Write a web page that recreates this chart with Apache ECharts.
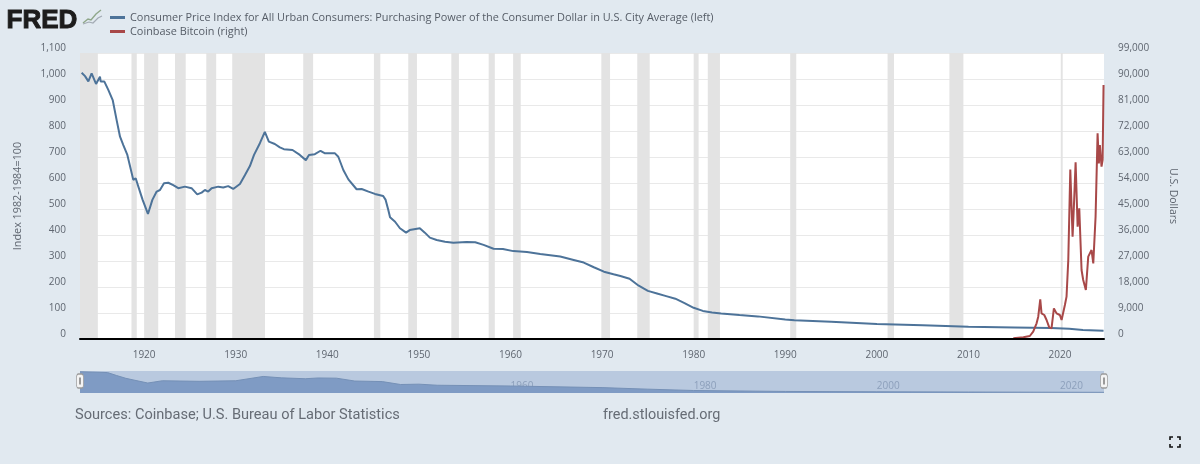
<!DOCTYPE html>
<html>
<head>
<meta charset="utf-8">
<style>html,body{margin:0;padding:0;background:#e1e9f0;}#c{width:1200px;height:464px;}</style>
<script src="https://cdn.jsdelivr.net/npm/echarts@6/dist/echarts.min.js"></script>
</head>
<body>
<div id="c"></div>
<script>
const cpiName = 'Consumer Price Index for All Urban Consumers: Purchasing Power of the Consumer Dollar in U.S. City Average (left)';
const btcName = 'Coinbase Bitcoin (right)';
const cpiYears = [1913.18,1913.55,1913.91,1914.27,1914.75,1915.18,1915.26,1915.66,1916.09,1916.57,1917,1917.37,1917.73,1918.17,1918.82,1919.08,1919.37,1919.84,1920.42,1920.9,1921.37,1921.73,1922.17,1922.64,1923.18,1923.73,1924.45,1925.18,1925.8,1926.28,1926.64,1927,1927.37,1928.1,1928.64,1929.18,1929.73,1930.46,1931,1931.55,1932,1932.64,1933.18,1933.62,1934.27,1934.82,1935.26,1936.2,1937,1937.66,1938,1938.64,1939.26,1939.75,1940.84,1941.2,1941.75,1942.3,1943.2,1943.75,1944.5,1945.2,1946.1,1946.37,1946.66,1946.85,1947.4,1947.93,1948.6,1949,1950.1,1950.65,1951.2,1951.94,1952.85,1953.76,1955.2,1956.15,1957.06,1958.15,1959.17,1960.3,1961.8,1963.25,1965.43,1966.9,1968,1969.1,1970.2,1971.25,1972,1973,1974,1975,1976,1977,1978,1979,1980,1981,1982,1983,1985,1987,1990,1991,1995,2000,2005,2010,2015,2019,2021,2022.5,2024.75];
const cpiValues = [1024,1011,991,1022,981,1009,990,990,958,919,842,778,746,708,612,618,586,535,481,535,567,573,599,601,592,580,586,580,556,563,573,567,580,586,583,588,577,596,630,665,708,753,797,759,750,737,730,727,708,688,708,711,724,714,714,701,650,614,576,577,567,558,550,535,496,468,451,426,409,419,426,409,390,381,374,370,373,372,362,347,346,338,335,327,317,304,294,276,259,249,242,232,205,185,175,165,155,138,120,108,102,98,92,87,75,72,66,58,53,47,44,42,39,35,32];
const btcYears = [2014.9,2016,2016.7,2017.07,2017.44,2017.62,2017.84,2017.98,2018.28,2018.53,2018.82,2019.07,2019.33,2019.62,2019.98,2020.17,2020.53,2020.71,2020.9,2021.12,2021.37,2021.52,2021.7,2021.92,2022.1,2022.35,2022.53,2022.82,2023.08,2023.44,2023.63,2023.88,2024.1,2024.24,2024.35,2024.53,2024.65,2024.75];
const btcValues = [240,580,1040,2540,5430,7730,13730,8880,8310,6580,4040,3690,10600,8880,8310,6580,11770,14650,27350,58700,35400,46400,61150,38900,45230,23880,20420,16960,28500,30800,26190,42340,71200,60800,67150,59650,62000,87900];
const navigatorYears = [1913,1916,1917,1918,1919,1920.4,1922,1926,1930,1933,1935,1937.6,1939,1941,1943,1946,1948,1950,1952,1960,1970,1975,1980,1990,2000,2010,2024.8];
const navigatorValues = [1024,985,842,708,612,481,590,563,590,797,730,688,724,714,576,550,409,426,374,338,259,185,120,75,58,47,32];
const recessionStarts = [1913,1918.62,1920,1923.37,1926.79,1929.62,1937.37,1945.09,1948.84,1953.54,1957.62,1960.29,1969.92,1973.84,1980,1981.54,1990.54,2001.17,2007.92,2020.08];
const recessionEnds = [1914.95,1919.2,1921.54,1924.54,1927.87,1933.2,1938.45,1945.79,1949.79,1954.37,1958.29,1961.12,1970.87,1975.2,1980.54,1982.87,1991.2,2001.87,2009.45,2020.29];
const xTicks = [1920,1930,1940,1950,1960,1970,1980,1990,2000,2010,2020];
const navigatorTicks = [1960,1980,2000,2020];
const xRange = [1913,2024.8];
const navigatorHandles = [[1913,578],[2024.8,578]];

const pairs = (xs, ys) => xs.map((x, i) => [x, ys[i]]);
const gray = '#5f6670';
const font = '"Open Sans"';
const chart = echarts.init(document.getElementById('c'));
chart.setOption({
  animation: false,
  backgroundColor: '#e1e9f0',
  legend: {
    orient: 'vertical', left: 110, top: 11, padding: 0, itemGap: 1, itemWidth: 15, itemHeight: 3, icon: 'rect',
    data: [cpiName, btcName],
    textStyle: { fontFamily: font, fontSize: 10.9, color: '#555c66', lineHeight: 13 },
    selectedMode: false
  },
  grid: [
    { left: 80, top: 53, width: 1024, height: 286, show: true, backgroundColor: '#ffffff', borderWidth: 0 },
    { left: 80, top: 371, width: 1024, height: 22, show: true, backgroundColor: '#b9c9df', borderWidth: 0 }
  ],
  xAxis: [
    { type: 'value', gridIndex: 0, min: xRange[0], max: xRange[1], z: 10, splitLine: { show: false }, axisTick: { show: false },
      axisLine: { show: true, onZero: false, lineStyle: { color: '#000', width: 2 } },
      axisLabel: { customValues: xTicks, margin: 11, fontFamily: font, fontSize: 10, color: gray, formatter: v => String(v) } },
    { type: 'value', gridIndex: 1, min: xRange[0], max: xRange[1], splitLine: { show: false }, axisTick: { show: false }, axisLine: { show: false },
      axisLabel: { inside: true, customValues: navigatorTicks, margin: 2, align: 'left', fontFamily: font, fontSize: 10, color: 'rgba(125,145,175,0.75)', formatter: v => String(v) } }
  ],
  yAxis: [
    { type: 'value', gridIndex: 0, min: 0, max: 1100, interval: 100, position: 'left',
      name: 'Index 1982-1984=100', nameLocation: 'middle', nameGap: 57, nameRotate: 90,
      nameTextStyle: { fontFamily: font, fontSize: 10.8, color: gray },
      axisLine: { show: false }, axisTick: { show: false }, splitLine: { show: true, lineStyle: { color: '#e9e9e9', width: 1 } },
      axisLabel: { margin: 14, verticalAlign: 'bottom', fontFamily: font, fontSize: 10, color: gray, formatter: v => v.toLocaleString('en-US') } },
    { type: 'value', gridIndex: 0, min: 0, max: 99000, interval: 9000, position: 'right',
      name: 'U.S. Dollars', nameLocation: 'middle', nameGap: 63, nameRotate: -90,
      nameTextStyle: { fontFamily: font, fontSize: 10.5, color: gray },
      axisLine: { show: false }, axisTick: { show: false }, splitLine: { show: false },
      axisLabel: { margin: 14, verticalAlign: 'bottom', fontFamily: font, fontSize: 10, color: gray, formatter: v => v.toLocaleString('en-US') } },
    { type: 'value', gridIndex: 1, min: 0, max: 1060, show: false }
  ],
  series: [
    { name: cpiName, type: 'line', xAxisIndex: 0, yAxisIndex: 0, data: pairs(cpiYears, cpiValues), showSymbol: false, silent: true,
      color: '#4d7399', lineStyle: { color: '#4d7399', width: 2 },
      markArea: { silent: true, itemStyle: { color: '#e3e3e3' }, label: { show: false },
        data: recessionStarts.map((s, i) => [{ xAxis: s }, { xAxis: recessionEnds[i] }]) } },
    { name: btcName, type: 'line', xAxisIndex: 0, yAxisIndex: 1, data: pairs(btcYears, btcValues), showSymbol: false, silent: true,
      color: '#a84848', lineStyle: { color: '#a84848', width: 2 } },
    { name: 'navigator', type: 'line', xAxisIndex: 1, yAxisIndex: 2, data: pairs(navigatorYears, navigatorValues), showSymbol: false, silent: true,
      lineStyle: { color: '#7590b6', width: 1 }, areaStyle: { color: '#7f9bc4', opacity: 1 } },
    { name: 'handles', type: 'scatter', xAxisIndex: 1, yAxisIndex: 2, data: navigatorHandles, clip: false, silent: true, z: 5,
      symbol: 'roundRect', symbolSize: [7, 14], itemStyle: { color: '#f4f4f4', borderColor: '#9a9a9a', borderWidth: 1, opacity: 1 } },
    { name: 'grips', type: 'scatter', xAxisIndex: 1, yAxisIndex: 2, data: navigatorHandles, clip: false, silent: true, z: 6,
      symbol: 'rect', symbolSize: [2, 7], itemStyle: { color: '#9a9a9a', opacity: 1 } }
  ],
  graphic: [
    { type: 'text', left: 6, top: 7, style: { text: 'FRED', font: '900 26px "Liberation Sans"', fill: '#1c1c1c', stroke: '#1c1c1c', lineWidth: 1 } },
    { type: 'polyline', shape: { points: [[83,23],[88,19],[91,20],[96,14],[101,10]] }, style: { stroke: '#8fa78a', fill: 'none', lineWidth: 1.4 } },
    { type: 'polyline', shape: { points: [[83,24],[89,22],[93,23],[98,18],[102,16]] }, style: { stroke: '#a3abb4', fill: 'none', lineWidth: 1.2 } },
    { type: 'text', left: 75, top: 408, style: { text: 'Sources: Coinbase; U.S. Bureau of Labor Statistics', font: '14.6px Roboto', fill: '#666c75' } },
    { type: 'text', left: 603, top: 408, style: { text: 'fred.stlouisfed.org', font: '14.4px Roboto', fill: '#666c75' } },
    { type: 'polyline', shape: { points: [[1170,440],[1170,437],[1173,437]] }, style: { stroke: '#111', fill: 'none', lineWidth: 1.6 } },
    { type: 'polyline', shape: { points: [[1177,437],[1180,437],[1180,440]] }, style: { stroke: '#111', fill: 'none', lineWidth: 1.6 } },
    { type: 'polyline', shape: { points: [[1170,444],[1170,447],[1173,447]] }, style: { stroke: '#111', fill: 'none', lineWidth: 1.6 } },
    { type: 'polyline', shape: { points: [[1177,447],[1180,447],[1180,444]] }, style: { stroke: '#111', fill: 'none', lineWidth: 1.6 } }
  ]
});
</script>
</body>
</html>
